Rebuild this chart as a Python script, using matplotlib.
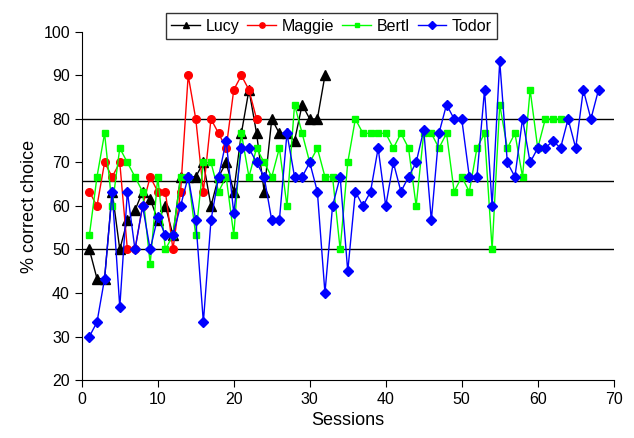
import matplotlib
matplotlib.use("Agg")
import matplotlib.pyplot as plt

plt.rcParams['font.family'] = ['Liberation Sans', 'DejaVu Sans']

lucy = [50, 43.3, 43.3, 63.3, 50, 56.7, 59, 63.3, 61.7, 56.7, 60, 53.3, 66.7, 66.7, 66.7,
        70, 60, 66.7, 70, 63.3, 76.7, 86.7, 76.7, 63.3, 80, 76.7, 76.7, 75, 83.3, 80, 80, 90]
maggie = [63.3, 60, 70, 66.7, 70, 50, 50, 60, 66.7, 63.3, 63.3, 50, 63.3, 90, 80, 63.3,
          80, 76.7, 73.3, 86.7, 90, 86.7, 80]
bertl = [53.3, 66.7, 76.7, 60, 73.3, 70, 66.7, 63.3, 46.7, 66.7, 50, 53.3, 66.7, 66.7, 53.3,
         70, 70, 63.3, 66.7, 53.3, 76.7, 66.7, 73.3, 70, 66.7, 73.3, 60, 83.3, 76.7, 70,
         73.3, 66.7, 66.7, 50, 70, 80, 76.7, 76.7, 76.7, 76.7, 73.3, 76.7, 73.3, 60, 76.7,
         76.7, 73.3, 76.7, 63.3, 66.7, 63.3, 73.3, 76.7, 50, 83.3, 73.3, 76.7, 66.7, 86.7,
         73.3, 80, 80, 80]
todor = [30, 33.3, 43.3, 63.3, 36.7, 63.3, 50, 60, 50, 57.5, 53.3, 53.3, 60, 66.7, 56.7,
         33.3, 56.7, 66.7, 75, 58.3, 73.3, 73.3, 70, 66.7, 56.7, 56.7, 76.7, 66.7, 66.7, 70,
         63.3, 40, 60, 66.7, 45, 63.3, 60, 63.3, 73.3, 60, 70, 63.3, 66.7, 70, 77.5, 56.7,
         76.7, 83.3, 80, 80, 66.7, 66.7, 86.7, 60, 93.3, 70, 66.7, 80, 70, 73.3, 73.3, 75,
         73.3, 80, 73.3, 86.7, 80, 86.7]
ref_lines = [50, 65.8, 80]

series = [("Lucy", lucy, "black", "^", 6.5),
          ("Maggie", maggie, "#ff0000", "o", 5.5),
          ("Bertl", bertl, "#00ff00", "s", 5),
          ("Todor", todor, "#0000ff", "D", 5.5)]

fig = plt.figure(figsize=(6.34, 4.38), dpi=100)
ax = fig.add_axes([0.129, 0.1324, 0.839, 0.7946])

for y in ref_lines:
    ax.plot([0, 70], [y, y], color="black", lw=1.0, zorder=1)

handles = []
for name, vals, col, mk, ms in series:
    xs = list(range(1, len(vals) + 1))
    h, = ax.plot(xs, vals, color=col, marker=mk, markersize=ms, lw=1.0,
                 markeredgecolor=col, markerfacecolor=col, label=name, zorder=2)
    handles.append(h)

ax.set_xlim(0, 70)
ax.set_ylim(20, 100)
ax.set_xticks(range(0, 71, 10))
ax.set_yticks(range(20, 101, 10))
ax.spines['top'].set_visible(False)
ax.spines['right'].set_visible(False)
ax.tick_params(direction='out', length=5, labelsize=11.5)
ax.set_xlabel("Sessions", fontsize=13)
ax.set_ylabel("% correct choice", fontsize=13)

leg = fig.legend(handles=handles, loc='center', bbox_to_anchor=(0.523, 0.94), ncol=4,
                 fontsize=11.5, frameon=True, fancybox=False, handlelength=1.8,
                 columnspacing=0.5, handletextpad=0.35, borderpad=0.35, markerscale=0.7)
leg.get_frame().set_edgecolor('black')
leg.get_frame().set_linewidth(1.0)

fig.savefig("out.png", dpi=100)
